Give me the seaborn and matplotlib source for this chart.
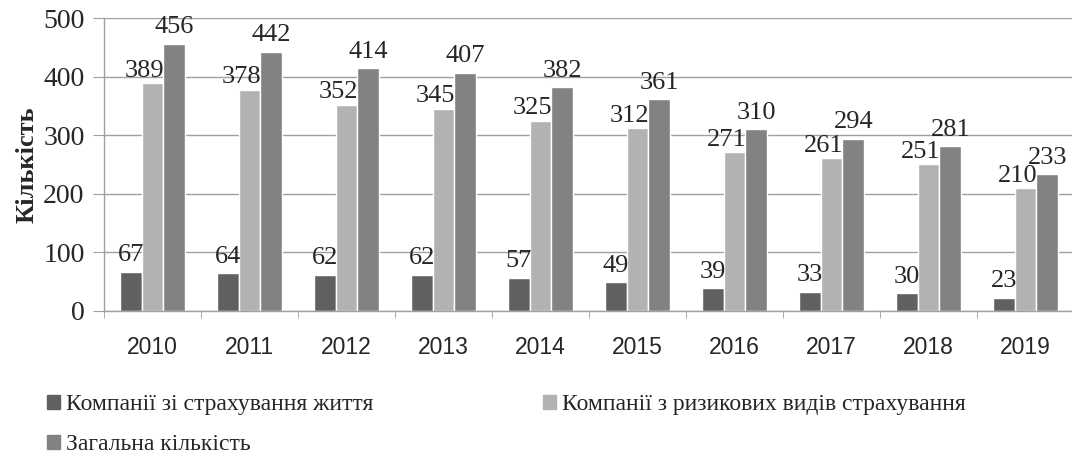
import matplotlib
matplotlib.use("Agg")
import matplotlib.pyplot as plt
from matplotlib.patches import Patch
import pandas as pd
import seaborn as sns

# Data
years = ["2010", "2011", "2012", "2013", "2014", "2015", "2016", "2017", "2018", "2019"]
life = [67, 64, 62, 62, 57, 49, 39, 33, 30, 23]
risk = [389, 378, 352, 345, 325, 312, 271, 261, 251, 210]
total = [456, 442, 414, 407, 382, 361, 310, 294, 281, 233]
series_names = [
    "Компанії зі страхування життя",
    "Компанії з ризикових видів страхування",
    "Загальна кількість",
]
colors = ["#606060", "#b2b2b2", "#828282"]

df = pd.DataFrame({
    "year": years * 3,
    "value": life + risk + total,
    "series": [series_names[0]] * 10 + [series_names[1]] * 10 + [series_names[2]] * 10,
})

sns.set_style("white")
plt.rcParams["font.family"] = ["Liberation Serif", "DejaVu Serif"]
grey = "#a0a0a0"

fig = plt.figure(figsize=(10.72, 4.57), dpi=100)
ax = fig.add_axes([0.097, 0.3195, 0.905, 0.641])

sns.barplot(data=df, x="year", y="value", hue="series", hue_order=series_names,
            palette=colors, width=0.67, gap=0, saturation=1, legend=False, ax=ax)

# value labels above bars (middle series labels sit a bit to the left, like the original)
label_offsets = [(0, 4), (-6, 1), (0, 4)]
for cont, (dx, pad) in zip(ax.containers, label_offsets):
    for ann in ax.bar_label(cont, fontsize=19, padding=pad):
        ann.xyann = (dx, pad)

ax.set_ylim(0, 500)
ax.set_yticks(range(0, 501, 100))
ax.set_xlim(-0.5, 9.5)
ax.yaxis.grid(True, color=grey, lw=1)
ax.set_axisbelow(True)
for s in ["top", "right"]:
    ax.spines[s].set_visible(False)
for s in ["left", "bottom"]:
    ax.spines[s].set_color(grey)
    ax.spines[s].set_linewidth(1)

ax.tick_params(axis="y", labelsize=20, length=8, color=grey, pad=6, left=True)
ax.set_xticks([i - 0.5 for i in range(11)], minor=True)
ax.tick_params(axis="x", which="major", length=0, pad=18)
ax.tick_params(axis="x", which="minor", length=5, color=grey, bottom=True)
for lbl in ax.get_xticklabels():
    lbl.set_fontfamily(["Liberation Sans", "DejaVu Sans"])
    lbl.set_fontsize(16.5)

ax.set_xlabel("")
ax.set_ylabel("Кількість", fontsize=19, fontweight="bold", labelpad=3)

handles = [Patch(color=c, label=n) for c, n in zip(colors, series_names)]
fig.legend(handles=[handles[0], handles[2], handles[1]], ncol=2, frameon=False,
           loc="upper left", bbox_to_anchor=(0.035, 0.158), fontsize=17,
           handlelength=0.55, handleheight=0.55, handletextpad=0.25,
           columnspacing=7.2, labelspacing=0.8, borderaxespad=0)

fig.savefig("out.png", dpi=100)
